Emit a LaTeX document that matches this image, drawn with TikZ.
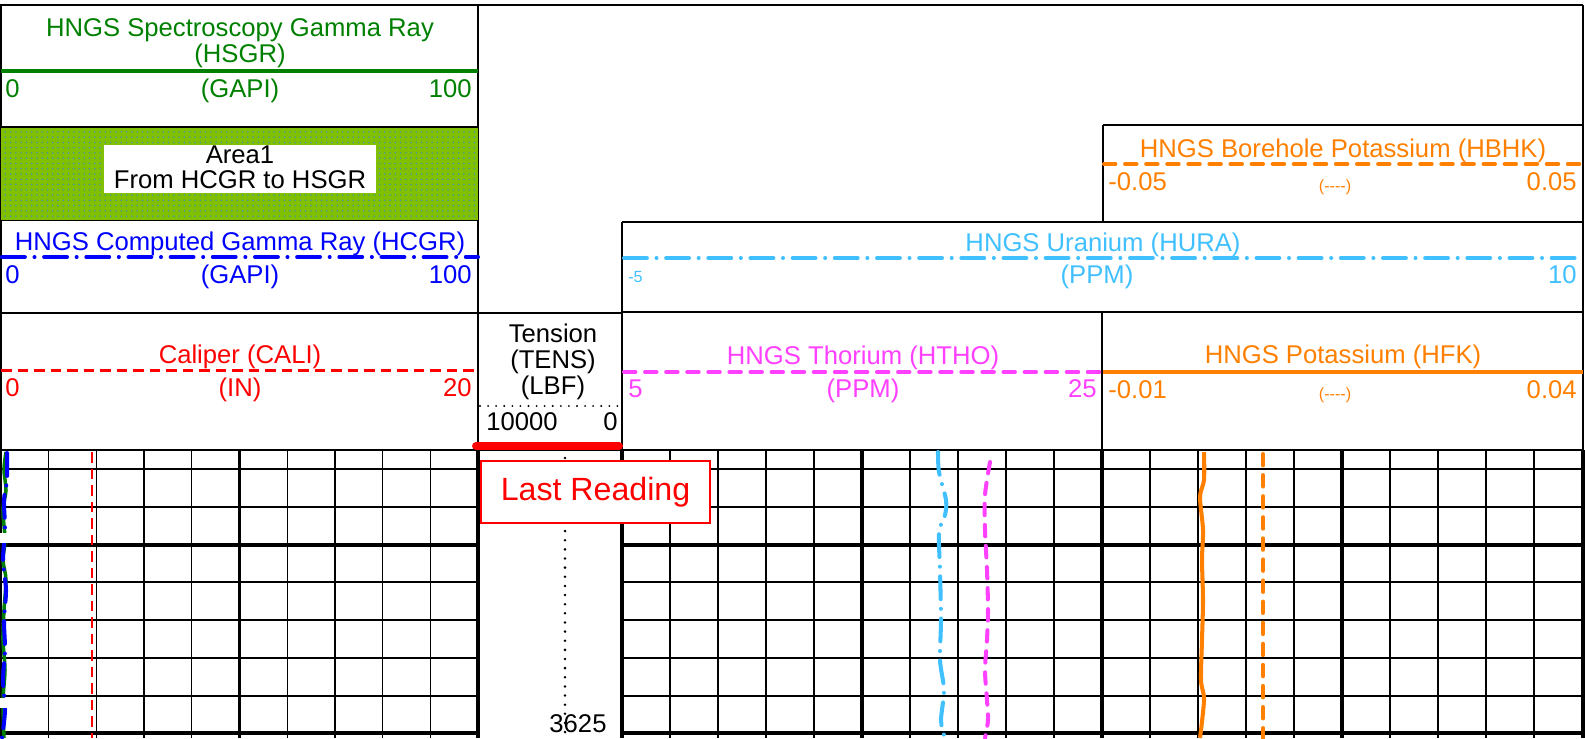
\documentclass[tikz,border=0pt]{standalone}
\usepackage{fontspec}
\setmainfont{Liberation Sans}
\usetikzlibrary{patterns}

\definecolor{hsgrgreen}{RGB}{0,128,0}
\definecolor{areagreen}{RGB}{128,192,0}
\definecolor{dotblue}{RGB}{70,150,170}
\definecolor{hcgrblue}{RGB}{0,0,255}
\definecolor{calired}{RGB}{255,0,0}
\definecolor{thomag}{RGB}{255,64,255}
\definecolor{urablue}{RGB}{64,192,255}
\definecolor{korange}{RGB}{255,128,0}

\tikzset{
  hdr/.style={font=\fontsize{14.6}{16}\selectfont, inner sep=0pt, anchor=base},
  sml/.style={font=\fontsize{9.2}{11}\selectfont, inner sep=0pt, anchor=base},
  frame/.style={line width=0.85pt},
  gridthin/.style={line width=0.7pt},
  gridthick/.style={line width=1.8pt},
  trackline/.style={line width=2.4pt},
  dashdot/.style={line width=2.3pt, line cap=round, dash pattern=on 13pt off 5.5pt on 0pt off 5.5pt},
  dashline/.style={line width=2.3pt, line cap=round, dash pattern=on 6.5pt off 5.5pt},
  calidash/.style={line width=1.7pt, dash pattern=on 6pt off 3.4pt},
}

\begin{document}
\begin{tikzpicture}[x=0.02cm, y=-0.02cm]
        \useasboundingbox (0,0) rectangle (1585,738);

        % grid
        \foreach \y in {469,507,582,620,658,696} {
                \draw[gridthin] (1,\y) -- (478,\y);
                \draw[gridthin] (622,\y) -- (1583,\y);
        }
        \foreach \y in {545,733} {
                \draw[gridthick] (1,\y) -- (478,\y);
                \draw[gridthick] (622,\y) -- (1583,\y);
        }
        \foreach \i in {1,2,3,4,6,7,8,9}
                \draw[gridthin] ({1+47.7*\i},450) -- ++(0,288);
        \draw[gridthick] (239.5,450) -- (239.5,738);
        \foreach \i in {1,2,3,4,6,7,8,9,11,12,13,14,16,17,18,19}
                \draw[gridthin] ({622+48*\i},450) -- ++(0,288);
        \draw[gridthick] (862,450) -- (862,738);
        \draw[gridthick] (1342,450) -- (1342,738);
        \draw[trackline] (478,450) -- (478,738);
        \draw[trackline] (622,450) -- (622,738);
        \draw[trackline] (1102,450) -- (1102,738);
        \draw[trackline] (1583,450) -- (1583,738);
        \draw[gridthin] (1,450) -- (1,738);

        % header frames
        \draw[line width=1.4pt] (0,5) -- (1583,5);
        \draw[frame] (1,5) -- (1,450);
        \draw[frame] (478,5) -- (478,450);
        \draw[frame] (1583,5) -- (1583,450);
        \draw[line width=1.4pt] (1,127) -- (478,127);
        \draw[frame] (1,220) -- (478,220);
        \draw[frame] (1,313) -- (622,313);
        \draw[frame] (1,450) -- (1583,450);
        \draw[frame] (1103,125) -- (1583,125);
        \draw[frame] (1103,125) -- (1103,222);
        \draw[frame] (622,222) -- (1583,222);
        \draw[frame] (622,222) -- (622,450);
        \draw[frame] (622,312) -- (1583,312);
        \draw[frame] (1102,312) -- (1102,450);

        % HSGR header
        \node[hdr, hsgrgreen] (hsgrname) at (240,36) {HNGS Spectroscopy Gamma Ray};
        \node[hdr, hsgrgreen] (hsgrmnem) at (240,62) {(HSGR)};
        \draw[hsgrgreen, line width=2.3pt] (1,71) -- (478,71);
        \node[hdr, hsgrgreen, anchor=base west] (hsgrmin) at (5,97) {0};
        \node[hdr, hsgrgreen] (hsgrunit) at (240,97) {(GAPI)};
        \node[hdr, hsgrgreen, anchor=base east] (hsgrmax) at (472,97) {100};

        % Area1 fill
        \fill[areagreen] (1.5,128) rectangle (477.5,219.5);
        \fill[pattern=dots, pattern color=dotblue] (1.5,128) rectangle (477.5,219.5);
        \fill[white] (104,145) rectangle (376,193);
        \node[hdr] (areaname) at (240,163) {Area1};
        \node[hdr] (areadesc) at (240,188) {From HCGR to HSGR};

        % HCGR header
        \node[hdr, hcgrblue] (hcgrname) at (240,250) {HNGS Computed Gamma Ray (HCGR)};
        \draw[hcgrblue, dashdot] (2,257) -- (478,257);
        \node[hdr, hcgrblue, anchor=base west] (hcgrmin) at (5,283) {0};
        \node[hdr, hcgrblue] (hcgrunit) at (240,283) {(GAPI)};
        \node[hdr, hcgrblue, anchor=base east] (hcgrmax) at (472,283) {100};

        % CALI header
        \node[hdr, calired] (caliname) at (240,363) {Caliper (CALI)};
        \draw[calired, calidash] (1,370) -- (478,370);
        \node[hdr, calired, anchor=base west] (calimin) at (5,396) {0};
        \node[hdr, calired] (caliunit) at (240,396) {(IN)};
        \node[hdr, calired, anchor=base east] (calimax) at (472,396) {20};

        % TENS header
        \node[hdr] (tensname) at (553,342) {Tension};
        \node[hdr] (tensmnem) at (553,368) {(TENS)};
        \node[hdr] (tensunit) at (553,394) {(LBF)};
        \draw[line width=1.2pt, line cap=round, dash pattern=on 0pt off 4.6pt] (480,406) -- (620,406);
        \node[hdr, anchor=base west] (tensmin) at (486,430) {10000};
        \node[hdr, anchor=base east] (tensmax) at (618,430) {0};

        % HBHK header
        \node[hdr, korange] (hbhkname) at (1343,157) {HNGS Borehole Potassium (HBHK)};
        \draw[korange, dashline] (1104,164) -- (1583,164);
        \node[hdr, korange, anchor=base west] (hbhkmin) at (1108,190) {-0.05};
        \node[sml, korange] (hbhkunit) at (1335,191) {(-{}-{}-{}-)};
        \node[hdr, korange, anchor=base east] (hbhkmax) at (1577,190) {0.05};

        % HURA header
        \node[hdr, urablue] (huraname) at (1103,251) {HNGS Uranium (HURA)};
        \draw[urablue, dashdot] (624,258) -- (1583,258);
        \node[sml, urablue, anchor=base west] (huramin) at (628,282) {-5};
        \node[hdr, urablue] (huraunit) at (1097,283) {(PPM)};
        \node[hdr, urablue, anchor=base east] (huramax) at (1577,283) {10};

        % HTHO header
        \node[hdr, thomag] (hthoname) at (863,364) {HNGS Thorium (HTHO)};
        \draw[thomag, dashline] (624,372) -- (1100,372);
        \node[hdr, thomag, anchor=base west] (hthomin) at (628,397) {5};
        \node[hdr, thomag] (hthounit) at (863,397) {(PPM)};
        \node[hdr, thomag, anchor=base east] (hthomax) at (1097,397) {25};

        % HFK header
        \node[hdr, korange] (hfkname) at (1343,363) {HNGS Potassium (HFK)};
        \draw[korange, line width=2.3pt] (1103,372) -- (1583,372);
        \node[hdr, korange, anchor=base west] (hfkmin) at (1108,398) {-0.01};
        \node[sml, korange] (hfkunit) at (1335,399) {(-{}-{}-{}-)};
        \node[hdr, korange, anchor=base east] (hfkmax) at (1577,398) {0.04};

        % curves
        \draw[hsgrgreen, line width=2pt] plot[smooth] coordinates {(6,452) (4,470) (6,490) (3,510) (5,540) (3,560) (6,580) (4,610) (3,640) (5,670) (3,700) (4,738)};
        \draw[hcgrblue, dashdot] plot[smooth] coordinates {(7,453) (7,480) (4,500) (5,530) (3,560) (6,590) (4,620) (5,650) (3,680) (5,710) (2,738)};
        \fill[white] (0,533) rectangle (7,543);
        \fill[white] (0,698) rectangle (7,708);
        \draw[calired, calidash] (92,452) -- (92,738);
        \draw[urablue, dashdot] plot[smooth] coordinates {(938,452) (939,472) (946,500) (945,515) (939,532) (940,570) (941,620) (940,660) (944,690) (941,720) (944,735)};
        \draw[thomag, dashline] plot[smooth] coordinates {(990,462) (985,495) (985,530) (987,570) (988,610) (987,640) (985,670) (987,700) (988,720) (985,738)};
        \draw[korange, line width=2.3pt] plot[smooth] coordinates {(1204,452) (1204,480) (1200,497) (1203,530) (1202,560) (1203,600) (1202,640) (1201,680) (1204,700) (1200,738)};
        \draw[korange, dashline] (1263,454) -- (1263,738);

        % tension
        \draw[line width=1.6pt, line cap=round, dash pattern=on 0pt off 5.2pt] (565,458) -- (565,738);
        \node[hdr] (tensval) at (578,732) {3625};
        \draw[calired, line width=4.5pt, line cap=round] (476,446) -- (619,446);
        \node[draw=calired, fill=white, line width=1.4pt, minimum width=229*0.02cm, minimum height=62*0.02cm,
              text=calired, font=\fontsize{18.3}{20}\selectfont] (lastread) at (595.5,492) {Last Reading};
\end{tikzpicture}
\end{document}
